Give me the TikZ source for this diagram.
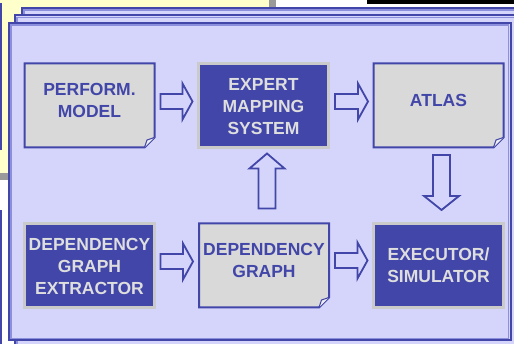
\documentclass[tikz,border=0pt]{standalone}
\usepackage{fontspec}
\setmainfont{Liberation Sans}
\usetikzlibrary{calc}

\definecolor{dblue}{HTML}{4146A8}
\definecolor{bgblue}{HTML}{D5D5FB}
\definecolor{midblue}{HTML}{8C8FDC}
\definecolor{docgrey}{HTML}{D9D9D9}
\definecolor{flapgrey}{HTML}{EEEEEE}
\definecolor{edgegrey}{HTML}{CACACA}
\definecolor{lighttext}{HTML}{DEDEDE}
\definecolor{paleyellow}{HTML}{FFFFCC}
\definecolor{shadowgrey}{HTML}{9A9A9A}

% multi-line box caption, raised by #1 from the box centre
\newcommand\boxtext[2]{\raisebox{#1}[0pt][0pt]{\begin{tabular}{@{}c@{}}#2\end{tabular}}}

% outline of a document box with a folded bottom-right corner
\newcommand\docoutline[1]{%
  \fill[bgblue] ([yshift=10pt]#1.south east) -- (#1.south east) -- ([xshift=-10pt]#1.south east) -- cycle;
  \draw[docline] (#1.north west) -- (#1.north east) -- ([yshift=10pt]#1.south east)
     -- ([xshift=-10pt]#1.south east) -- (#1.south west) -- cycle;
  \draw[flap] ([xshift=-10pt]#1.south east) -- ([shift={(-7.5pt,7.5pt)}]#1.south east)
     -- ([yshift=10pt]#1.south east);
}

% hollow block arrow pointing right, from #1 to #2
\newcommand\hblock[2]{%
  \path[barrow] let \p1=(#1), \p2=(#2) in
    (\x1,\y1+7.5pt) -- (\x2-10pt,\y1+7.5pt) -- (\x2-10pt,\y1+18pt) -- (\x2,\y1)
    -- (\x2-10pt,\y1-18pt) -- (\x2-10pt,\y1-7.5pt) -- (\x1,\y1-7.5pt) -- cycle;
}
% hollow block arrow, vertical, from #1 to #2; #3 is the signed head length
\newcommand\vblock[3]{%
  \path[barrow] let \p1=(#1), \p2=(#2) in
    (\x1-8.5pt,\y1) -- (\x1-8.5pt,\y2-#3) -- (\x1-17.5pt,\y2-#3) -- (\x1,\y2)
    -- (\x1+17.5pt,\y2-#3) -- (\x1+8.5pt,\y2-#3) -- (\x1+8.5pt,\y1) -- cycle;
}

\tikzset{
  boxbase/.style={minimum width=130pt, minimum height=84pt, inner sep=0pt, outer sep=0pt,
    font=\fontsize{17.5}{22}\selectfont\bfseries},
  darkbox/.style={boxbase, fill=dblue, draw=edgegrey, line width=2.2pt, text=lighttext},
  docbox/.style={boxbase, fill=docgrey, text=dblue},
  docline/.style={draw=dblue, line width=2pt, line join=miter},
  flap/.style={draw=dblue, line width=1pt, fill=flapgrey, line join=round},
  barrow/.style={draw=dblue, fill=bgblue, line width=1.8pt, line join=miter},
  frameedge/.style={draw=dblue, line width=2pt, fill=bgblue},
  frameband/.style={draw=midblue, line width=1.4pt},
}

\begin{document}
\begin{tikzpicture}[x=1pt, y=1pt]
  \useasboundingbox (0,0) rectangle (514,344);
  \clip (0,0) rectangle (514,344);

  % slide background pieces
  \fill[white] (0,0) rectangle (514,344);
  \fill[shadowgrey] (0,164) rectangle (276,344);
  \fill[paleyellow] (0,171) rectangle (269,344);
  \fill[black] (367,340) rectangle (514,344);
  \fill[dblue] (0,194) rectangle (2,341);
  \fill[dblue] (0,0) rectangle (2,134);

  % stacked frames
  \draw[frameedge] (22,336) rectangle (540,-30);
  \draw[frameband] (24,334) rectangle (538,-28);
  \draw[frameedge] (15,328.5) rectangle (530,-20);
  \draw[frameband] (17,326.5) rectangle (528,-18);
  \draw[frameedge] (9,321) rectangle (510.5,3.5);
  \draw[frameband] (11,319) rectangle (508.5,5.5);

  % boxes
  \node[docbox]  (perf)   at (89.5,238.5)  {\boxtext{-0.5pt}{PERFORM.\\MODEL}};
  \node[darkbox] (expert) at (263.5,238.5) {\boxtext{-6.5pt}{EXPERT\\MAPPING\\SYSTEM}};
  \node[docbox]  (atlas)  at (438.5,238.5) {\boxtext{-0.5pt}{ATLAS}};
  \node[darkbox] (dge)    at (89.5,78.5)   {\boxtext{-7pt}{DEPENDENCY\\GRAPH\\EXTRACTOR}};
  \node[docbox]  (dg)     at (264,78.5)    {\boxtext{-0.5pt}{DEPENDENCY\\GRAPH}};
  \node[darkbox] (exec)   at (438.5,78.5)  {\boxtext{-6pt}{EXECUTOR/\\SIMULATOR}};

  \docoutline{perf}
  \docoutline{atlas}
  \docoutline{dg}

  % connectors
  \hblock{$(perf.east)+(6,4)$}{$(expert.west)+(-6,4)$}
  \hblock{$(expert.east)+(6.5,4)$}{$(atlas.west)+(-5.5,4)$}
  \hblock{$(dge.east)+(6,4)$}{$(dg.west)+(-6,4)$}
  \hblock{$(dg.east)+(6,5)$}{$(exec.west)+(-6,5)$}
  \vblock{$(dg.north)+(3,15)$}{$(expert.south)+(3.5,-6)$}{15pt}
  \vblock{$(atlas.south)+(3,-7.5)$}{$(exec.north)+(3,13.5)$}{-14pt}
\end{tikzpicture}
\end{document}
